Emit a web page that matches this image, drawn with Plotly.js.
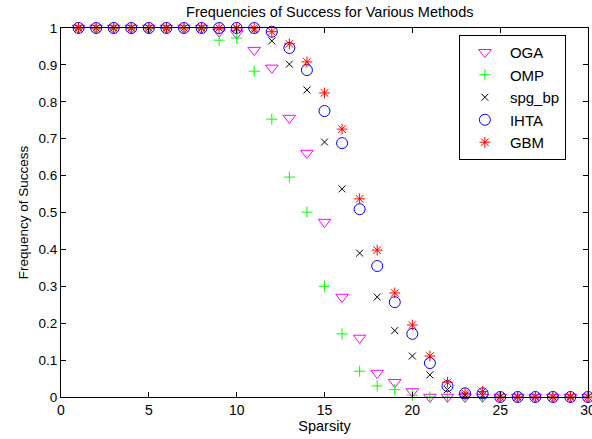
<!DOCTYPE html>
<html><head><meta charset="utf-8">
<script src="https://cdn.plot.ly/plotly-3.0.1.min.js"></script>
<style>html,body{margin:0;padding:0;background:#fff}#chart{width:592px;height:439px}</style>
</head><body><div id="chart"></div>
<script>
var sparsity = [1,2,3,4,5,6,7,8,9,10,11,12,13,14,15,16,17,18,19,20,21,22,23,24,25,26,27,28,29,30];
var oga   = [1,1,1,1,1,1,1,1,0.99,0.985,0.94,0.892,0.756,0.661,0.474,0.271,0.16,0.065,0.04,0.015,0,0,0,0,0,0,0,0,0,0];
var omp   = [1,1,1,1,1,1,1,1,0.967,0.973,0.883,0.753,0.596,0.501,0.30,0.171,0.07,0.03,0.02,0.005,0,0,0,0,0,0,0,0,0,0];
var spgbp = [1,1,1,1,1,1,1,1,1,1,0.995,0.965,0.902,0.832,0.691,0.564,0.39,0.271,0.18,0.111,0.06,0.02,0.005,0.005,0,0,0,0,0,0];
var ihta  = [1,1,1,1,1,1,1,1,1,1,1,0.99,0.946,0.886,0.775,0.688,0.509,0.355,0.257,0.171,0.092,0.03,0.01,0.01,0,0,0,0,0,0];
var gbm   = [1,1,1,1,1,1,1,1,1,1,1,0.99,0.957,0.908,0.824,0.726,0.537,0.398,0.282,0.195,0.111,0.04,0.01,0.015,0,0,0,0,0,0];
var seriesNames = ['OGA','OMP','spg_bp','IHTA','GBM'];
var xTicks = [0,5,10,15,20,25,30];
var yTicks = [0,0.1,0.2,0.3,0.4,0.5,0.6,0.7,0.8,0.9,1];
var yTickText = ['0','0.1','0.2','0.3','0.4','0.5','0.6','0.7','0.8','0.9','1'];

function tr(y, name, sym, color, size){
  return {x: sparsity, y: y, name: name, type:'scatter', mode:'markers', cliponaxis:false,
    marker:{symbol: sym, color: color, size: size, line:{color: color, width:1}}};
}
var data = [
  tr(oga, seriesNames[0], 'triangle-down-open', '#ff00ff', 11),
  tr(omp, seriesNames[1], 'cross-thin-open', '#00ff00', 8),
  tr(spgbp, seriesNames[2], 'x-thin-open', '#000000', 7),
  tr(ihta, seriesNames[3], 'circle-open', '#0000ff', 11),
  tr(gbm, seriesNames[4], 'asterisk-open', '#ff0000', 9)
];
var fam = 'Liberation Sans, Arial, sans-serif';
var layout = {
  width:592, height:439,
  margin:{l:61, r:4, t:28, b:42},
  paper_bgcolor:'#fff', plot_bgcolor:'#fff',
  font:{family:fam, size:13, color:'#000'},
  showlegend:true,
  title:{text:'Frequencies of Success for Various Methods', xref:'paper', x:0.51, xanchor:'center', y:0.985, yanchor:'top', font:{family:fam, size:14.5, color:'#000'}},
  xaxis:{range:[0,30], tickvals:xTicks, ticks:'inside', ticklen:5, tickcolor:'#000', showgrid:false, zeroline:false,
    showline:true, linecolor:'#000', linewidth:1, mirror:'ticks', ticklabeloverflow:'allow',
    title:{text:'Sparsity', font:{size:14.5}, standoff:1}, tickfont:{size:14}},
  yaxis:{range:[0,1], tickvals:yTicks, ticktext:yTickText, ticks:'inside', ticklen:5, tickcolor:'#000', showgrid:false, zeroline:false,
    showline:true, linecolor:'#000', linewidth:1, mirror:'ticks', ticklabeloverflow:'allow',
    title:{text:'Frequency of Success', font:{size:13.5}, standoff:6}, tickfont:{size:13.5}},
  legend:{x:0.755, y:0.981, xanchor:'left', yanchor:'top', bordercolor:'#000', borderwidth:1, bgcolor:'#fff',
    font:{size:15}, tracegroupgap:0, itemwidth:40}
};
Plotly.newPlot('chart', data, layout, {displayModeBar:false, staticPlot:true});
</script></body></html>
